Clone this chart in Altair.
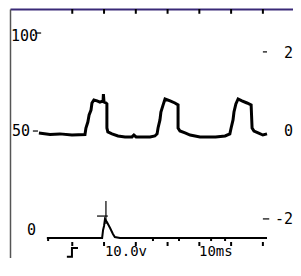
import altair as alt
import pandas as pd

# ---- data (time in ms, amplitude in %) ----
main_t = [9.5, 13.0, 16.1, 19.9, 24.0, 24.3, 24.9, 25.3, 25.9, 26.2, 26.8, 27.8, 28.7, 29.7, 29.8,
          30.0, 30.6, 30.9, 30.9, 31.2, 32.5, 34.4, 36.6, 38.8, 39.4, 40.1, 44.5, 46.0, 46.7, 47.0,
          47.6, 47.9, 48.6, 49.2, 50.8, 52.3, 53.3, 53.3, 53.9, 55.5, 57.1, 60.2, 65.1, 68.1, 69.6,
          70.0, 70.6, 70.9, 71.5, 72.2, 73.4, 75.0, 76.3, 76.6, 77.2, 78.5, 80.0, 81.3]
main_v = [49.0, 48.2, 48.5, 47.9, 48.2, 51.6, 54.7, 58.4, 61.0, 64.7, 66.3, 65.8, 65.2, 65.8, 69.4,
          65.2, 64.7, 64.2, 51.6, 49.5, 48.5, 47.4, 46.9, 46.9, 47.9, 46.9, 46.9, 47.4, 48.5, 51.6,
          55.8, 60.0, 63.7, 66.8, 65.8, 64.7, 63.7, 51.6, 50.0, 49.0, 47.9, 46.9, 46.9, 47.4, 48.5,
          51.6, 55.8, 60.0, 64.2, 66.8, 65.8, 64.7, 63.7, 51.6, 50.0, 49.0, 47.9, 48.5]

low_t = [12.0, 29.4, 29.7, 30.0, 30.3, 30.9, 31.9, 32.8, 33.4, 35.0, 81.3]
low_v = [-6.1, -6.1, -1.9, 0.2, 3.8, 2.3, -0.9, -4.0, -5.6, -6.1, -6.1]

trig_t = [18.3, 19.9, 19.9, 21.8]
trig_v = [-16.0, -16.0, -11.3, -11.3]

div_t = [20, 30, 40, 50, 60, 70, 80]
marker_t = [12.4, 45.4, 53.6, 63.7, 68.1]

left_labels = ["100", "50", "0"]
left_t = [0.7, 1.0, 5.75]
left_v = [99.8, 50.0, -1.9]

right_labels = ["2", "0", "-2"]
right_v = [90.9, 50.0, 3.9]

bottom_labels = ["10.0v", "10ms"]
bottom_t = [36.9, 65.2]

# ---- tables ----
main = pd.DataFrame({"t": main_t, "v": main_v, "i": range(len(main_t))})
low = pd.DataFrame({"t": low_t, "v": low_v, "i": range(len(low_t))})
trig = pd.DataFrame({"t": trig_t, "v": trig_v, "i": range(len(trig_t))})
top_ticks = pd.DataFrame({"t": div_t, "v": [114] * 7, "v2": [111.5] * 7})
bot_ticks = pd.DataFrame({"t": div_t, "v": [-8.2] * 7, "v2": [-10.3] * 7})
marks = pd.DataFrame({"t": marker_t, "v": [-6.1] * 5, "v2": [-7.7] * 5})
cross_v = pd.DataFrame({"t": [30.6], "v": [13.3], "v2": [1.2]})
hdash = pd.DataFrame({"t": [27.8, 8.3, 7.6, 80.0, 80.0],
                      "t2": [31.2, 10.2, 9.2, 81.3, 82.0],
                      "v": [5.4, 101.4, 50.0, 91.5, 3.9]})
lt = pd.DataFrame({"t": left_t, "v": left_v, "s": left_labels})
rt = pd.DataFrame({"t": [89.5] * 3, "v": right_v, "s": right_labels})
bt = pd.DataFrame({"t": bottom_t, "v": [-13.4] * 2, "s": bottom_labels})

xs = alt.Scale(domain=[0.4, 89.48], nice=False, zero=False)
ys = alt.Scale(domain=[-16.6, 114], nice=False, zero=False)
FONT = "DejaVu Sans Mono"

# the screen frame (top and left edges) is drawn by the axis domain lines
X = alt.X("t:Q", scale=xs, title=None,
          axis=alt.Axis(orient="top", domainColor="#3a2a78", domainWidth=2,
                        ticks=False, labels=False, grid=False))
Y = alt.Y("v:Q", scale=ys, title=None,
          axis=alt.Axis(orient="left", domainColor="#555555", domainWidth=1.5,
                        ticks=False, labels=False, grid=False))

main_line = alt.Chart(main).mark_line(color="black", strokeWidth=3, strokeJoin="miter").encode(
    x=X, y=Y, order="i:Q")
low_line = alt.Chart(low).mark_line(color="black", strokeWidth=2).encode(x=X, y=Y, order="i:Q")
trig_line = alt.Chart(trig).mark_line(color="black", strokeWidth=2).encode(x=X, y=Y, order="i:Q")
t_top = alt.Chart(top_ticks).mark_rule(color="black", strokeWidth=2).encode(x=X, y=Y, y2="v2:Q")
t_bot = alt.Chart(bot_ticks).mark_rule(color="black", strokeWidth=2).encode(x=X, y=Y, y2="v2:Q")
t_mk = alt.Chart(marks).mark_rule(color="black", strokeWidth=2).encode(x=X, y=Y, y2="v2:Q")
c_v = alt.Chart(cross_v).mark_rule(color="black", strokeWidth=1.2).encode(x=X, y=Y, y2="v2:Q")
h_d = alt.Chart(hdash).mark_rule(color="black", strokeWidth=1.2).encode(x=X, x2="t2:Q", y=Y)

txt_l = alt.Chart(lt).mark_text(font=FONT, fontSize=15, align="left", baseline="middle",
                                color="black").encode(x=X, y=Y, text="s:N")
txt_r = alt.Chart(rt).mark_text(font=FONT, fontSize=15, align="right", baseline="middle",
                                color="black").encode(x=X, y=Y, text="s:N")
txt_b = alt.Chart(bt).mark_text(font=FONT, fontSize=14, align="center", baseline="middle",
                                color="black").encode(x=X, y=Y, text="s:N")

chart = alt.layer(main_line, low_line, trig_line, t_top, t_bot, t_mk, c_v, h_d,
                  txt_l, txt_r, txt_b).properties(
    width=283, height=249,
    autosize=alt.AutoSizeParams(type="none"),
    padding={"left": 2, "top": 1, "right": 0, "bottom": 0},
    background="white",
).configure_view(strokeWidth=0, stroke="transparent")

chart.save("out.html", embed_options={"renderer": "svg", "actions": False})
